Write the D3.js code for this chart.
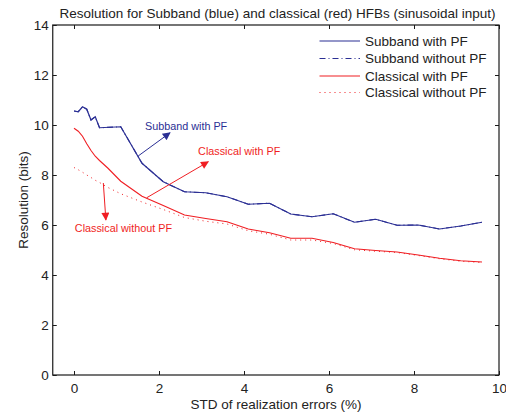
<!DOCTYPE html>
<html><head><meta charset="utf-8">
<script src="https://cdn.jsdelivr.net/npm/d3@7"></script>
<style>body{margin:0;background:#fff}svg{display:block}text{font-family:"Liberation Sans",Arial,sans-serif}</style>
</head><body><div id="chart"></div>
<script>
const xSub = [0,0.1,0.2,0.3,0.4,0.5,0.6,1.1,1.6,2.1,2.6,3.1,3.6,4.1,4.6,5.1,5.6,6.1,6.6,7.1,7.6,8.1,8.6,9.1,9.6];
const subbandPF = [10.56,10.53,10.73,10.63,10.2,10.33,9.89,9.93,8.47,7.73,7.33,7.29,7.13,6.83,6.87,6.44,6.33,6.45,6.11,6.23,5.99,6.0,5.84,5.96,6.11];
const subbandNoPF = [10.56,10.53,10.73,10.63,10.2,10.33,9.89,9.93,8.47,7.73,7.33,7.29,7.13,6.83,6.87,6.44,6.33,6.45,6.11,6.23,5.99,6.0,5.84,5.96,6.11];
const xCls = [0,0.1,0.2,0.3,0.4,0.5,0.6,0.8,1.1,1.6,2.1,2.6,3.1,3.6,4.1,4.6,5.1,5.6,6.1,6.6,7.1,7.6,8.1,8.6,9.1,9.6];
const classicalPF = [9.87,9.75,9.55,9.25,8.98,8.75,8.58,8.27,7.75,7.15,6.78,6.4,6.26,6.13,5.84,5.69,5.47,5.47,5.3,5.05,4.98,4.92,4.8,4.67,4.57,4.52];
const classicalNoPF = [8.3,8.21,8.11,8.0,7.9,7.79,7.7,7.5,7.25,6.92,6.62,6.3,6.15,6.04,5.77,5.63,5.4,5.4,5.26,5.01,4.95,4.9,4.78,4.65,4.55,4.5];
const xTicks = [0,2,4,6,8,10];
const yTicks = [0,2,4,6,8,10,12,14];
const legendLabels = ["Subband with PF","Subband without PF","Classical with PF","Classical without PF"];
const titleText = "Resolution for Subband (blue) and classical (red) HFBs (sinusoidal input)";
const xLabel = "STD of realization errors (%)";
const yLabel = "Resolution (bits)";
const annotations = [
  {text:"Subband with PF", tx:1.67, ty:9.8, x1:1.51, y1:8.76, x2:2.26, y2:9.69, color:"blue"},
  {text:"Classical with PF", tx:2.92, ty:8.82, x1:1.71, y1:7.09, x2:3.16, y2:8.53, color:"red"},
  {text:"Classical without PF", tx:0.02, ty:5.74, x1:0.69, y1:7.68, x2:0.75, y2:6.2, color:"red"}
];

const W=506,H=417;
const BLUE="#2b2f94", RED="#f01e23", AX="#1a1a1a";
const L=52.75,R=499,T=25,B=375;
const x=d3.scaleLinear().domain([-0.5,10]).range([L,R]);
const y=d3.scaleLinear().domain([0,14]).range([B,T]);
const svg=d3.select("#chart").append("svg").attr("width",W).attr("height",H);
const defs=svg.append("defs");
[["blue",BLUE],["red",RED]].forEach(([k,c])=>{
  defs.append("marker").attr("id","ah-"+k).attr("viewBox","0 0 10 10").attr("refX",9).attr("refY",5)
    .attr("markerWidth",10).attr("markerHeight",8).attr("markerUnits","userSpaceOnUse").attr("orient","auto")
    .append("path").attr("d","M0,0 L10,5 L0,10 Z").attr("fill",c);
});

const line=(xs)=>d3.line().x((d,i)=>x(xs[i])).y(d=>y(d));
const g=svg.append("g");
g.append("path").datum(subbandNoPF).attr("d",line(xSub)).attr("fill","none").attr("stroke",BLUE).attr("stroke-width",1.1).attr("stroke-dasharray","6,3,1,3");
g.append("path").datum(subbandPF).attr("d",line(xSub)).attr("fill","none").attr("stroke",BLUE).attr("stroke-width",1.2);
g.append("path").datum(classicalNoPF).attr("d",line(xCls)).attr("fill","none").attr("stroke",RED).attr("stroke-width",1).attr("stroke-dasharray","1,4");
g.append("path").datum(classicalPF).attr("d",line(xCls)).attr("fill","none").attr("stroke",RED).attr("stroke-width",1.1);

// axes
const fs="13.5px";
const ax=svg.append("g");
ax.append("rect").attr("x",L).attr("y",T).attr("width",R-L).attr("height",B-T).attr("fill","none").attr("stroke",AX).attr("stroke-width",1.2);
const bx=d3.axisBottom(x).tickValues(xTicks).tickSize(-4).tickPadding(8).tickFormat(d3.format("d"));
const gx=ax.append("g").attr("transform",`translate(0,${B})`).call(bx);
gx.select(".domain").remove();
gx.selectAll("line").attr("stroke",AX);
gx.selectAll("text").attr("font-size",fs).attr("fill","#222").attr("font-family","Liberation Sans, Arial, sans-serif");
const tx=d3.axisTop(x).tickValues(xTicks).tickSize(-4).tickFormat("");
const gtx=ax.append("g").attr("transform",`translate(0,${T})`).call(tx);
gtx.select(".domain").remove(); gtx.selectAll("line").attr("stroke",AX);
const ly=d3.axisLeft(y).tickValues(yTicks).tickSize(-4).tickPadding(4).tickFormat(d3.format("d"));
const gy=ax.append("g").attr("transform",`translate(${L},0)`).call(ly);
gy.select(".domain").remove(); gy.selectAll("line").attr("stroke",AX);
gy.selectAll("text").attr("font-size",fs).attr("fill","#222").attr("font-family","Liberation Sans, Arial, sans-serif");
const ry=d3.axisRight(y).tickValues(yTicks).tickSize(-4).tickFormat("");
const gry=ax.append("g").attr("transform",`translate(${R},0)`).call(ry);
gry.select(".domain").remove(); gry.selectAll("line").attr("stroke",AX);

svg.append("text").attr("x",277.5).attr("y",17.5).attr("text-anchor","middle").attr("font-size",fs).attr("fill","#222").text(titleText);
svg.append("text").attr("x",276).attr("y",409).attr("text-anchor","middle").attr("font-size",fs).attr("fill","#222").text(xLabel);
svg.append("text").attr("transform","translate(27.5,200) rotate(-90)").attr("text-anchor","middle").attr("font-size",fs).attr("fill","#222").text(yLabel);

// annotations
annotations.forEach(a=>{
  const c=a.color==="blue"?BLUE:RED;
  svg.append("line").attr("x1",x(a.x1)).attr("y1",y(a.y1)).attr("x2",x(a.x2)).attr("y2",y(a.y2))
    .attr("stroke",c).attr("stroke-width",1).attr("marker-end",`url(#ah-${a.color})`);
  svg.append("text").attr("x",x(a.tx)).attr("y",y(a.ty)).attr("font-size","10.8px").attr("fill",c).text(a.text);
});

// legend
const lg=svg.append("g");
const styles=[[BLUE,"none",1.2],[BLUE,"6,3,1,3",1.1],[RED,"none",1.2],[RED,"1,4",1]];
const rowY=[41,58.5,76,92.5];
legendLabels.forEach((t,i)=>{
  lg.append("path").attr("d",`M319.5,${rowY[i]}H360`).attr("fill","none")
    .attr("stroke",styles[i][0]).attr("stroke-width",styles[i][2]).attr("stroke-dasharray",styles[i][1]);
  lg.append("text").attr("x",365).attr("y",rowY[i]).attr("dy","0.35em").attr("font-size",fs).attr("fill","#222").text(t);
});
</script></body></html>
